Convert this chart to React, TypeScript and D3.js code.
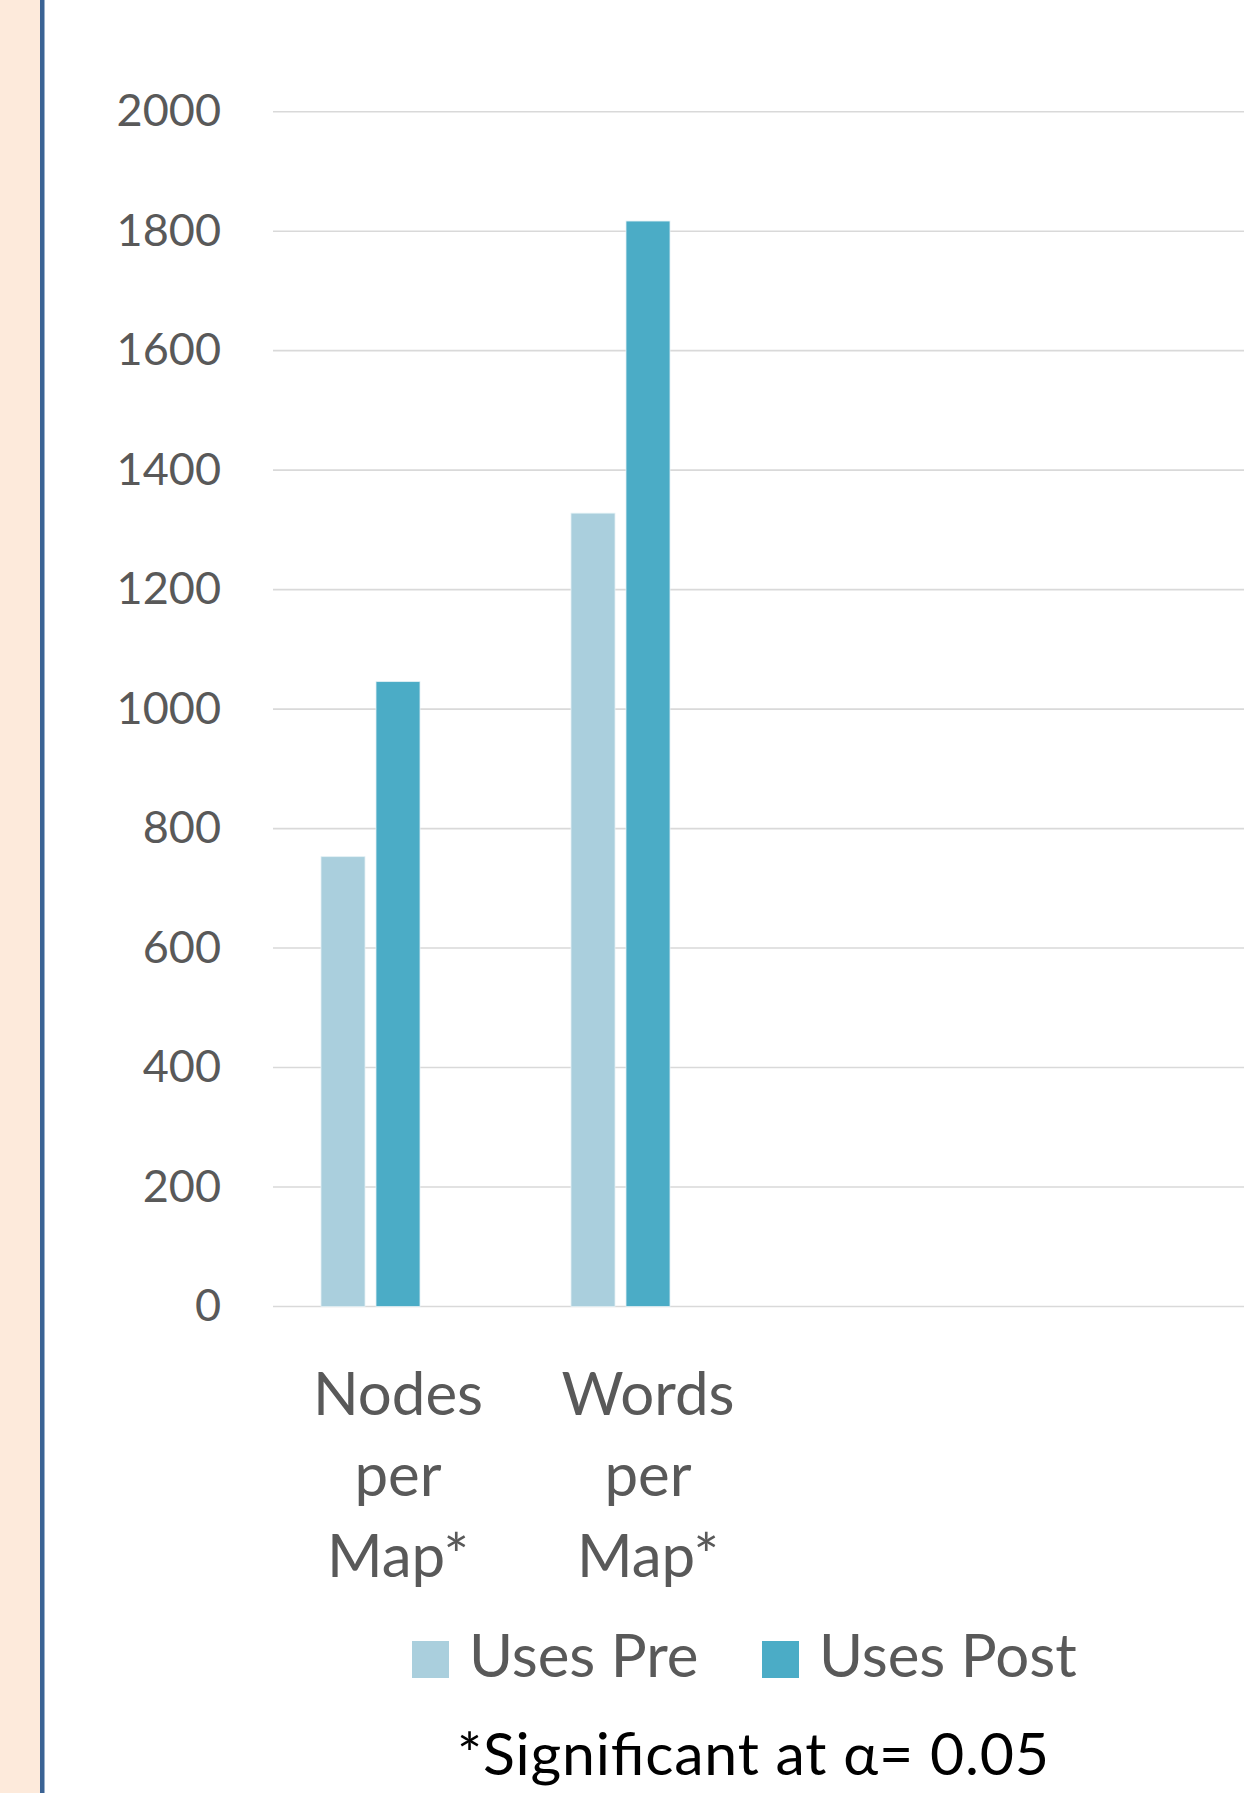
import React from "react";
import * as d3 from "d3";

// Categories, series and values
const categories: string[][] = [
  ["Nodes", "per", "Map*"],
  ["Words", "per", "Map*"],
];
const seriesNames = ["Uses Pre", "Uses Post"];
const usesPre = [753, 1328];
const usesPost = [1046, 1817];
const yTicks = [0, 200, 400, 600, 800, 1000, 1200, 1400, 1600, 1800, 2000];
const footnote = "*Significant at \u03B1= 0.05";

const colors = ["#AACFDD", "#4BACC6"];

const W = 1244;
const H = 1793;
const FONT = "Lato, 'Open Sans', sans-serif";

export default function App() {
  const plotLeft = 273;
  const plotRight = W;
  const y = d3.scaleLinear().domain([0, 2000]).range([1306.5, 111.7]);

  const catKeys = categories.map((c) => c.join(" "));
  // each category slot is 250px wide
  const x0 = d3
    .scaleBand<string>()
    .domain(catKeys)
    .range([plotLeft, plotLeft + 250 * catKeys.length])
    .paddingInner(0)
    .paddingOuter(0);

  // bars are laid out as a cluster of three slots; the two series occupy the first two
  const barW = 44;
  const gap = 11;
  const clusterW = barW * 3 + gap * 2;
  const x1 = d3
    .scaleBand<string>()
    .domain(seriesNames)
    .range([0, barW * 2 + gap])
    .paddingInner(gap / (barW + gap))
    .paddingOuter(0);

  const values = [usesPre, usesPost];

  return (
    <svg
      width={W}
      height={H}
      style={{ position: "absolute", left: 0, top: 0, background: "#fff" }}
      fontFamily={FONT}
    >
      {/* side band and border */}
      <rect x={0} y={0} width={40} height={H} fill="#FDEADB" />
      <rect x={40} y={0} width={4.5} height={H} fill="#3B6394" />

      {/* gridlines and y labels */}
      {yTicks.map((t) => (
        <g key={t}>
          <line
            x1={plotLeft}
            x2={plotRight}
            y1={y(t)}
            y2={y(t)}
            stroke="#D9D9D9"
            strokeWidth={1.6}
          />
          <text
            x={221}
            y={y(t) + 14.5}
            textAnchor="end"
            fontSize={45}
            fill="#595959"
          >
            {t}
          </text>
        </g>
      ))}

      {/* bars */}
      {catKeys.map((k, ci) => {
        const start = (x0(k) as number) + (x0.bandwidth() - clusterW) / 2;
        return (
          <g key={k}>
            {seriesNames.map((s, si) => {
              const v = values[si][ci];
              return (
                <rect
                  key={s}
                  x={start + (x1(s) as number)}
                  y={y(v)}
                  width={x1.bandwidth()}
                  height={y(0) - y(v)}
                  fill={colors[si]}
                  stroke="#E3F1F5"
                  strokeWidth={0.8}
                />
              );
            })}
          </g>
        );
      })}

      {/* category labels */}
      {categories.map((lines, ci) => {
        const cx = (x0(catKeys[ci]) as number) + x0.bandwidth() / 2;
        return (
          <text key={ci} textAnchor="middle" fontSize={60} fill="#595959">
            {lines.map((ln, li) => (
              <tspan key={li} x={cx} y={1414.5 + li * 81.3}>
                {ln}
              </tspan>
            ))}
          </text>
        );
      })}

      {/* legend */}
      {seriesNames.map((s, si) => {
        const lx = [412, 762][si];
        return (
          <g key={s}>
            <rect x={lx} y={1641} width={37} height={37} fill={colors[si]} />
            <text x={lx + 57} y={1677} fontSize={60} fill="#595959">
              {s}
            </text>
          </g>
        );
      })}

      {/* footnote */}
      <text
        x={457}
        y={1774.5}
        fontSize={59}
        fill="#000"
        textLength={592}
        lengthAdjust="spacing"
      >
        {footnote}
      </text>
    </svg>
  );
}
